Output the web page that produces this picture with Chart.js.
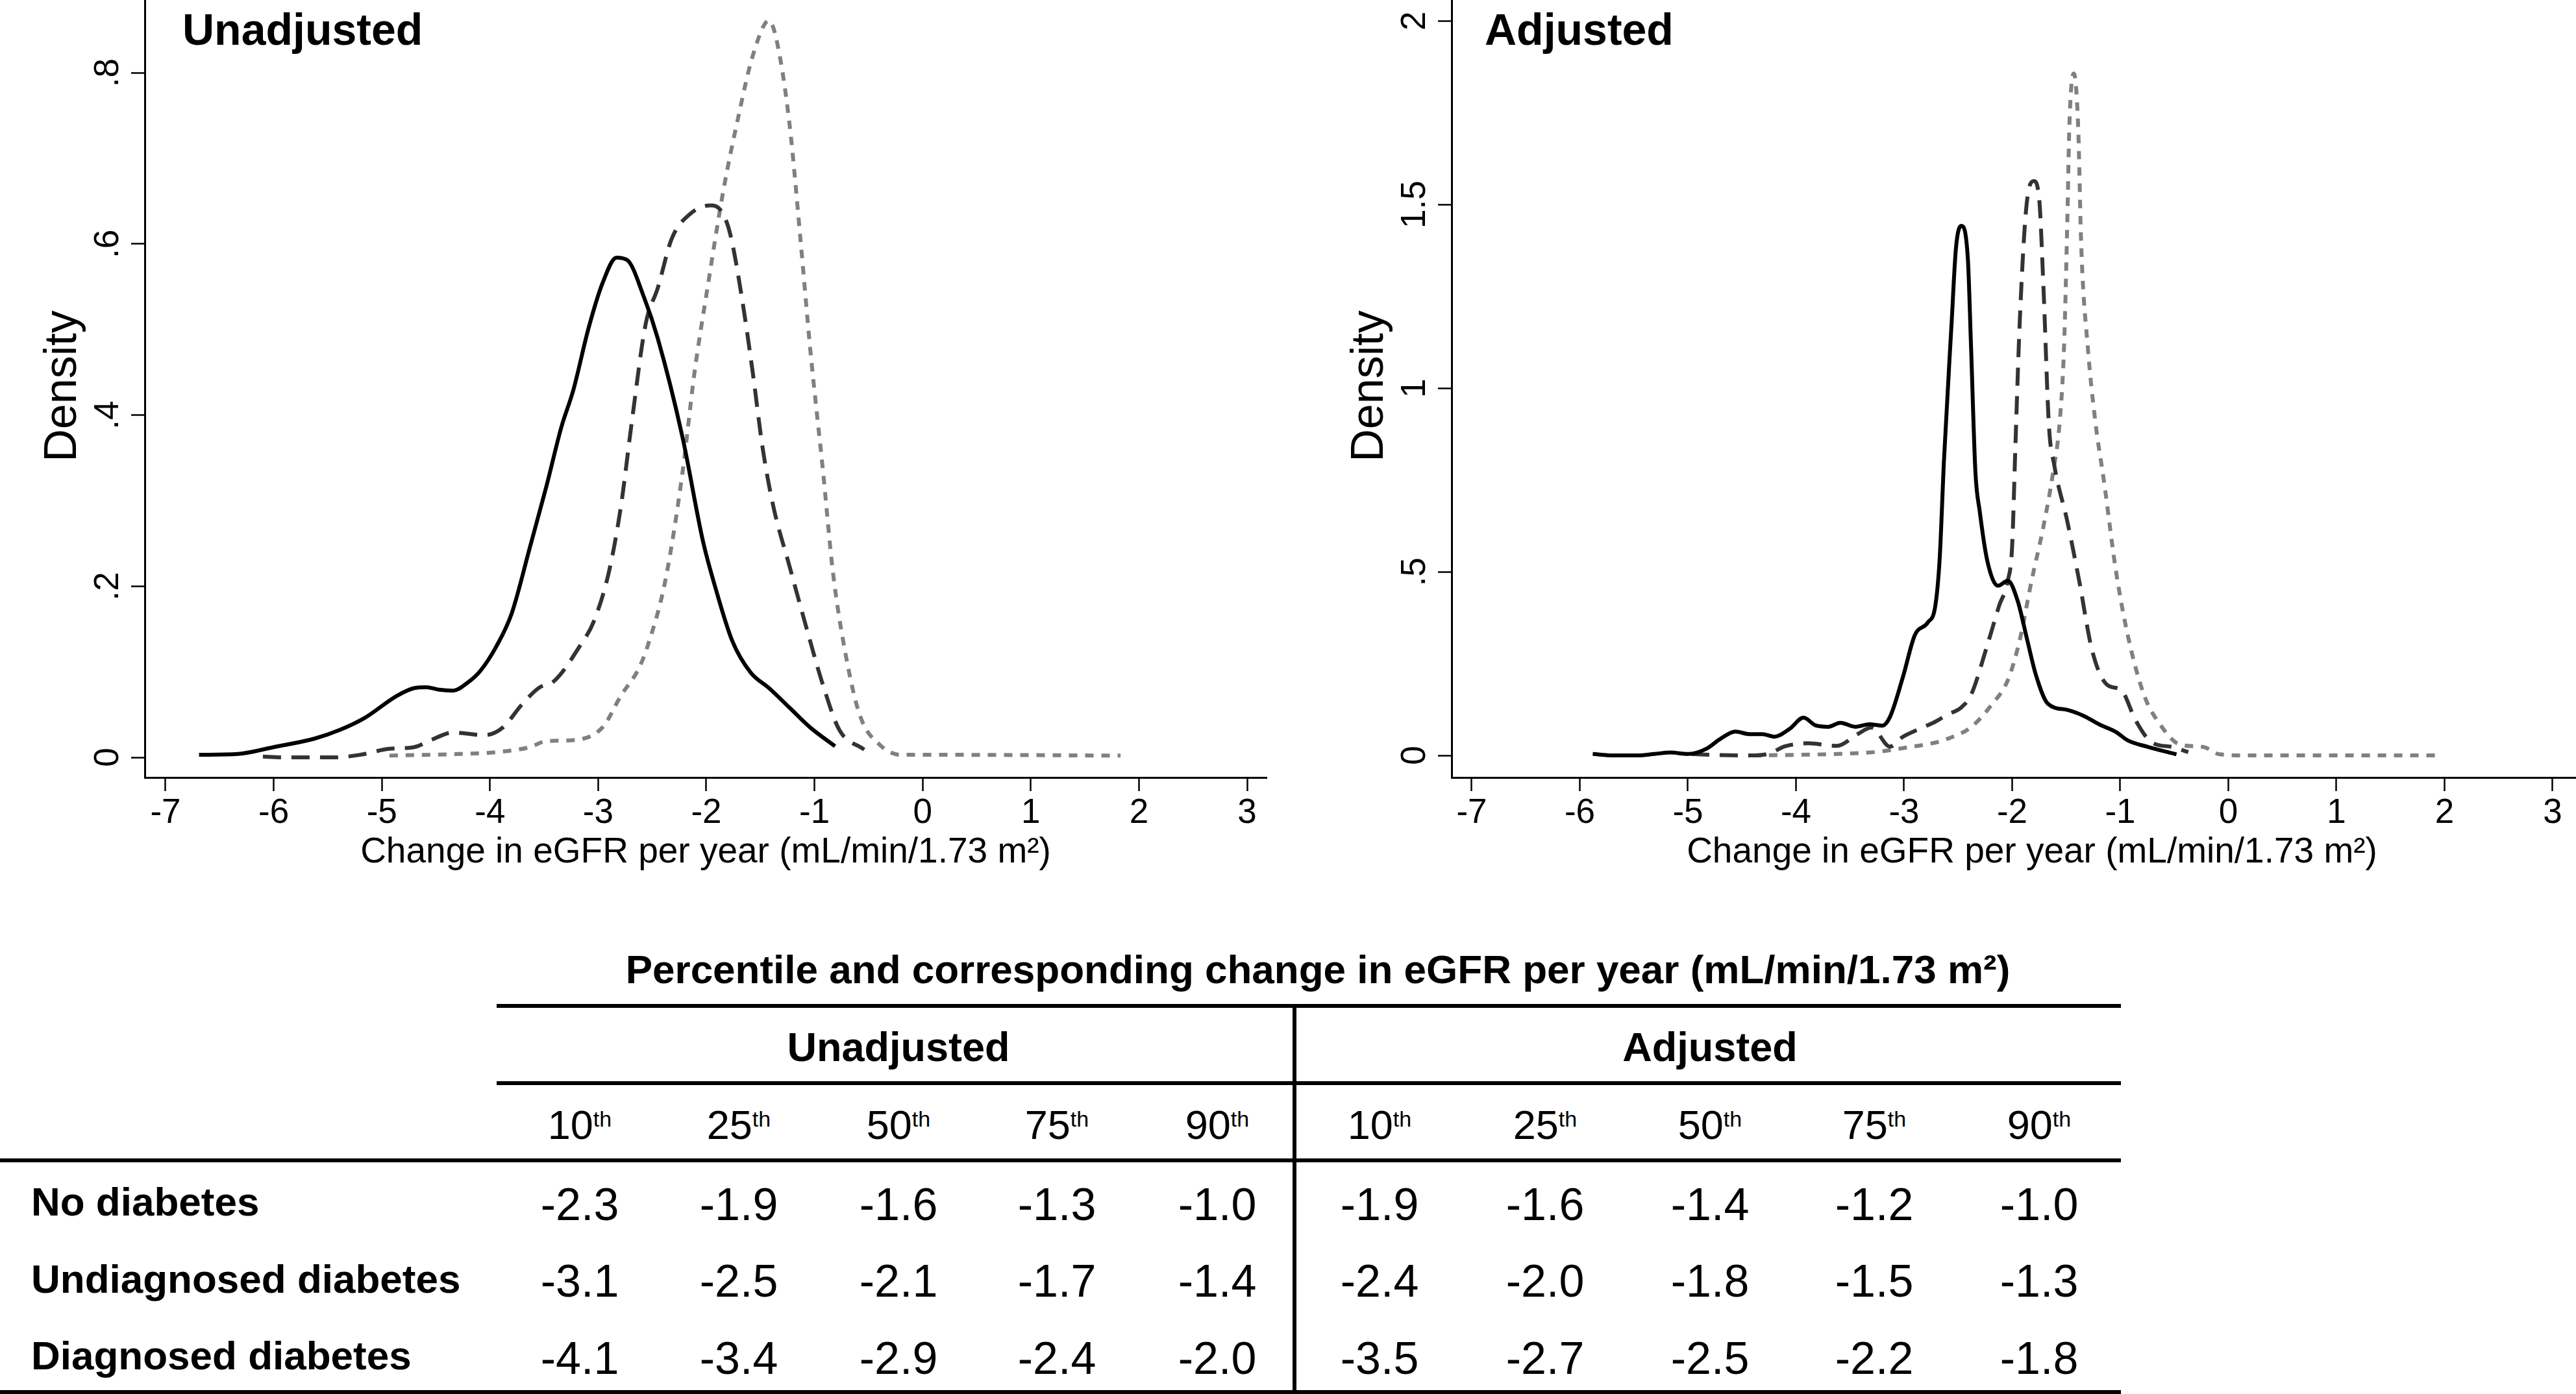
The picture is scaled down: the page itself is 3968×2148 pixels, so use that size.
<!DOCTYPE html>
<html lang="en">
<head>
  <meta charset="UTF-8" />
  <title>Change in eGFR per year - density</title>
  <script src="https://cdn.jsdelivr.net/npm/chart.js"></script>
  <style>
    html, body {
      margin: 0;
      padding: 0;
      width: 3968px;
      height: 2148px;
      overflow: hidden;
      background: #fff;
      color: #000;
      font-family: "Liberation Sans", Arial, sans-serif;
    }
    canvas { position: absolute; top: 0; }
    #unadjChart { left: 0; }
    #adjChart { left: 1990px; }
    .txt { position: absolute; white-space: nowrap; line-height: 1; }
    .rule { position: absolute; background: #000; }
    .sup { font-size: 34px; position: relative; top: -19px; }
  </style>
</head>
<body>

  <canvas id="unadjChart" width="1984" height="1400"></canvas>
  <canvas id="adjChart" width="2100" height="1400"></canvas>

  <script>
    // ---- data ----
    const xTicks = [-7, -6, -5, -4, -3, -2, -1, 0, 1, 2, 3];
    const unadjYTicks = [0, 0.2, 0.4, 0.6, 0.8];
    const unadjYLabels = ['0', '.2', '.4', '.6', '.8'];
    const adjYTicks = [0, 0.5, 1, 1.5, 2];
    const adjYLabels = ['0', '.5', '1', '1.5', '2'];

    // Unadjusted densities
    const unadjDiagX = [-6.69, -6.33, -6.0, -5.62, -5.39, -5.16, -4.86, -4.70, -4.59, -4.47, -4.34, -4.21, -4.09, -3.94, -3.80, -3.63, -3.48, -3.34, -3.23, -3.09, -2.96, -2.83, -2.73, -2.58, -2.45, -2.22, -2.03, -1.92, -1.76, -1.59, -1.42, -1.23, -1.04, -0.81];
    const unadjDiagY = [0.003, 0.004, 0.012, 0.022, 0.032, 0.046, 0.072, 0.081, 0.082, 0.079, 0.078, 0.087, 0.101, 0.130, 0.168, 0.246, 0.316, 0.386, 0.429, 0.501, 0.554, 0.584, 0.581, 0.539, 0.490, 0.374, 0.252, 0.200, 0.136, 0.099, 0.081, 0.058, 0.035, 0.013];

    const unadjUndiagX = [-6.1, -5.93, -5.43, -5.2, -4.93, -4.70, -4.55, -4.34, -4.05, -3.88, -3.71, -3.55, -3.40, -3.17, -3.04, -2.90, -2.79, -2.69, -2.56, -2.45, -2.32, -2.15, -1.96, -1.86, -1.78, -1.67, -1.57, -1.48, -1.38, -1.23, -1.08, -0.92, -0.77, -0.54];
    const unadjUndiagY = [0.001, 0, 0, 0.003, 0.010, 0.012, 0.020, 0.029, 0.026, 0.035, 0.061, 0.081, 0.090, 0.130, 0.159, 0.217, 0.293, 0.391, 0.507, 0.548, 0.606, 0.635, 0.645, 0.638, 0.612, 0.536, 0.449, 0.362, 0.293, 0.223, 0.154, 0.084, 0.032, 0.009];

    const unadjNoneX = [-4.93, -4.28, -3.94, -3.63, -3.48, -3.25, -2.96, -2.79, -2.62, -2.53, -2.38, -2.22, -2.11, -1.99, -1.84, -1.71, -1.57, -1.42, -1.34, -1.23, -1.13, -1.04, -0.92, -0.83, -0.71, -0.58, -0.39, -0.20, 0.15, 1.83];
    const unadjNoneY = [0.002, 0.004, 0.006, 0.012, 0.019, 0.020, 0.035, 0.072, 0.105, 0.135, 0.206, 0.333, 0.449, 0.548, 0.664, 0.745, 0.820, 0.861, 0.832, 0.739, 0.606, 0.478, 0.333, 0.217, 0.119, 0.049, 0.014, 0.003, 0.003, 0.002];

    // Adjusted densities
    const adjDiagX = [-5.88, -5.69, -5.46, -5.31, -5.16, -5.00, -4.83, -4.70, -4.56, -4.43, -4.31, -4.20, -4.06, -3.93, -3.82, -3.70, -3.59, -3.45, -3.32, -3.20, -3.13, -3.01, -2.90, -2.78, -2.71, -2.67, -2.63, -2.56, -2.52, -2.47, -2.41, -2.38, -2.34, -2.30, -2.23, -2.13, -2.04, -1.95, -1.86, -1.78, -1.67, -1.49, -1.34, -1.19, -1.04, -0.93, -0.74, -0.48];
    const adjDiagY = [0.004, 0, 0, 0.004, 0.008, 0.004, 0.018, 0.045, 0.065, 0.058, 0.058, 0.051, 0.072, 0.103, 0.082, 0.078, 0.089, 0.078, 0.085, 0.081, 0.105, 0.214, 0.328, 0.362, 0.409, 0.538, 0.808, 1.178, 1.381, 1.442, 1.354, 1.111, 0.773, 0.665, 0.530, 0.462, 0.476, 0.422, 0.314, 0.219, 0.141, 0.124, 0.108, 0.084, 0.064, 0.041, 0.023, 0.003];

    const adjUndiagX = [-4.97, -4.7, -4.4, -4.25, -4.1, -3.89, -3.62, -3.43, -3.30, -3.13, -3.01, -2.86, -2.71, -2.60, -2.47, -2.38, -2.23, -2.12, -2.04, -2.00, -1.97, -1.93, -1.87, -1.80, -1.75, -1.71, -1.66, -1.61, -1.49, -1.38, -1.26, -1.12, -0.99, -0.86, -0.71, -0.52, -0.37];
    const adjUndiagY = [0.004, 0.001, 0, 0.005, 0.025, 0.033, 0.026, 0.058, 0.076, 0.024, 0.051, 0.072, 0.092, 0.111, 0.131, 0.165, 0.300, 0.408, 0.476, 0.570, 0.841, 1.178, 1.489, 1.564, 1.516, 1.273, 0.900, 0.790, 0.638, 0.476, 0.286, 0.192, 0.178, 0.097, 0.036, 0.023, 0.009];

    const adjNoneX = [-4.4, -3.62, -3.24, -3.01, -2.71, -2.60, -2.38, -2.19, -2.04, -1.93, -1.82, -1.71, -1.62, -1.56, -1.52, -1.49, -1.47, -1.43, -1.39, -1.36, -1.30, -1.23, -1.15, -1.04, -0.93, -0.78, -0.63, -0.45, -0.23, -0.08, 0.18, 1.96];
    const adjNoneY = [0, 0.004, 0.010, 0.020, 0.035, 0.045, 0.077, 0.138, 0.205, 0.314, 0.476, 0.624, 0.773, 0.908, 1.111, 1.449, 1.719, 1.857, 1.719, 1.381, 1.111, 0.908, 0.746, 0.503, 0.327, 0.165, 0.084, 0.030, 0.023, 0.003, 0, 0];

    // Table
    const rowLabels = ['No diabetes', 'Undiagnosed diabetes', 'Diagnosed diabetes'];
    const percentiles = ['10', '25', '50', '75', '90'];
    const unadjPct = [
      [-2.3, -1.9, -1.6, -1.3, -1.0],
      [-3.1, -2.5, -2.1, -1.7, -1.4],
      [-4.1, -3.4, -2.9, -2.4, -2.0]
    ];
    const adjPct = [
      [-1.9, -1.6, -1.4, -1.2, -1.0],
      [-2.4, -2.0, -1.8, -1.5, -1.3],
      [-3.5, -2.7, -2.5, -2.2, -1.8]
    ];

    const xTitle = 'Change in eGFR per year (mL/min/1.73 m\u00B2)';
    const tableTitle = 'Percentile and corresponding change in eGFR per year (mL/min/1.73 m\u00B2)';

    // ---- charts ----
    const FONT = 'Liberation Sans';

    // Stata-style vertical y labels, y title and the panel title
    const stataText = {
      id: 'stataText',
      afterDraw(chart, args, o) {
        const ctx = chart.ctx;
        const y = chart.scales.y;
        const area = chart.chartArea;
        ctx.save();
        ctx.fillStyle = '#000';
        ctx.textAlign = 'center';
        ctx.textBaseline = 'alphabetic';

        ctx.font = `53px "${FONT}"`;
        y.ticks.forEach((t, i) => {
          ctx.save();
          ctx.translate(area.left - 41, y.getPixelForValue(t.value));
          ctx.rotate(-Math.PI / 2);
          ctx.fillText(o.labels[i], 0, 0);
          ctx.restore();
        });

        ctx.font = `70px "${FONT}"`;
        ctx.save();
        ctx.translate(area.left - 106, (area.top + area.bottom) / 2 - 4);
        ctx.rotate(-Math.PI / 2);
        ctx.fillText('Density', 0, 0);
        ctx.restore();

        ctx.font = `bold 68px "${FONT}"`;
        ctx.textAlign = 'left';
        ctx.fillText(o.title, area.left + o.titleDx, 69);
        ctx.restore();
      }
    };

    function series(xs, ys, color, dash, width) {
      return {
        data: xs.map((x, i) => ({ x: x, y: ys[i] })),
        borderColor: color,
        borderWidth: width,
        borderDash: dash,
        borderCapStyle: 'butt',
        pointRadius: 0,
        fill: false,
        cubicInterpolationMode: 'monotone'
      };
    }

    function densityChart(id, c) {
      return new Chart(document.getElementById(id), {
        type: 'line',
        data: {
          datasets: [
            series(c.diagX, c.diagY, '#000000', [], 6),
            series(c.undiagX, c.undiagY, '#333333', [28, 16], 6),
            series(c.noneX, c.noneY, '#808080', [13, 12], 6)
          ]
        },
        options: {
          responsive: false,
          animation: false,
          devicePixelRatio: 1,
          layout: { padding: { left: 0, top: 0, bottom: 0, right: c.padRight } },
          plugins: {
            legend: { display: false },
            tooltip: { enabled: false },
            stataText: { labels: c.yLabels, title: c.title, titleDx: c.titleDx }
          },
          scales: {
            x: {
              type: 'linear',
              min: c.xMin,
              max: c.xMax,
              afterFit: s => { s.height = 202; },
              afterBuildTicks: s => { s.ticks = xTicks.map(v => ({ value: v })); },
              grid: { drawOnChartArea: false, drawTicks: true, tickLength: 21, tickWidth: 2.5, tickColor: '#000' },
              border: { display: true, color: '#000', width: 3 },
              ticks: {
                color: '#000',
                font: { family: FONT, size: 53 },
                padding: 3,
                maxRotation: 0,
                minRotation: 0,
                autoSkip: false,
                callback: v => String(v)
              },
              title: {
                display: true,
                text: xTitle,
                color: '#000',
                font: { family: FONT, size: 55 },
                padding: { top: 0, bottom: 53 }
              }
            },
            y: {
              type: 'linear',
              min: c.yMin,
              max: c.yMax,
              afterFit: s => { s.width = c.yWidth; },
              afterBuildTicks: s => { s.ticks = c.yTicks.map(v => ({ value: v })); },
              grid: { drawOnChartArea: false, drawTicks: true, tickLength: 21, tickWidth: 2.5, tickColor: '#000' },
              border: { display: true, color: '#000', width: 3 },
              ticks: { display: false }
            }
          }
        },
        plugins: [stataText]
      });
    }

    densityChart('unadjChart', {
      diagX: unadjDiagX, diagY: unadjDiagY,
      undiagX: unadjUndiagX, undiagY: unadjUndiagY,
      noneX: unadjNoneX, noneY: unadjNoneY,
      xMin: -7.192, xMax: 3.180, yMin: -0.0235, yMax: 0.885,
      yTicks: unadjYTicks, yLabels: unadjYLabels,
      yWidth: 223, padRight: 33,
      title: 'Unadjusted', titleDx: 58
    });

    densityChart('adjChart', {
      diagX: adjDiagX, diagY: adjDiagY,
      undiagX: adjUndiagX, undiagY: adjUndiagY,
      noneX: adjNoneX, noneY: adjNoneY,
      xMin: -7.186, xMax: 3.553, yMin: -0.060, yMax: 2.057,
      yTicks: adjYTicks, yLabels: adjYLabels,
      yWidth: 246, padRight: 66,
      title: 'Adjusted', titleDx: 51
    });

    // ---- percentile table ----
    const unadjCols = [893, 1138, 1384, 1628, 1875];
    const adjCols = [2125, 2380, 2634, 2887, 3141];
    const rowBase = [1873, 1992, 2110];
    const numBase = [1880, 1998, 2117];

    function addText(html, x, base, size, bold, center) {
      const d = document.createElement('div');
      d.className = 'txt';
      d.innerHTML = html;
      d.style.fontSize = size + 'px';
      d.style.top = (base - 0.8465 * size) + 'px';
      d.style.left = x + 'px';
      if (bold) d.style.fontWeight = 'bold';
      if (center) d.style.transform = 'translateX(-50%)';
      document.body.appendChild(d);
    }

    function addRule(x1, x2, y1, y2) {
      const d = document.createElement('div');
      d.className = 'rule';
      d.style.left = x1 + 'px';
      d.style.top = y1 + 'px';
      d.style.width = (x2 - x1) + 'px';
      d.style.height = (y2 - y1) + 'px';
      document.body.appendChild(d);
    }

    addText(tableTitle, 2030, 1515, 62, true, true);
    addRule(765, 3267, 1547, 1553);
    addRule(765, 3267, 1666, 1672);
    addRule(0, 3267, 1785, 1791);
    addRule(0, 3267, 2142, 2148);
    addRule(1991, 1997, 1547, 2148);

    addText('Unadjusted', 1384, 1635, 63, true, true);
    addText('Adjusted', 2634, 1635, 63, true, true);

    percentiles.forEach((p, j) => {
      const lbl = p + '<span class="sup">th</span>';
      addText(lbl, unadjCols[j], 1755, 63, false, true);
      addText(lbl, adjCols[j], 1755, 63, false, true);
    });

    rowLabels.forEach((r, i) => {
      addText(r, 48, rowBase[i], 62, true, false);
      unadjPct[i].forEach((v, j) => addText(v.toFixed(1), unadjCols[j], numBase[i], 70, false, true));
      adjPct[i].forEach((v, j) => addText(v.toFixed(1), adjCols[j], numBase[i], 70, false, true));
    });
  </script>
</body>
</html>
